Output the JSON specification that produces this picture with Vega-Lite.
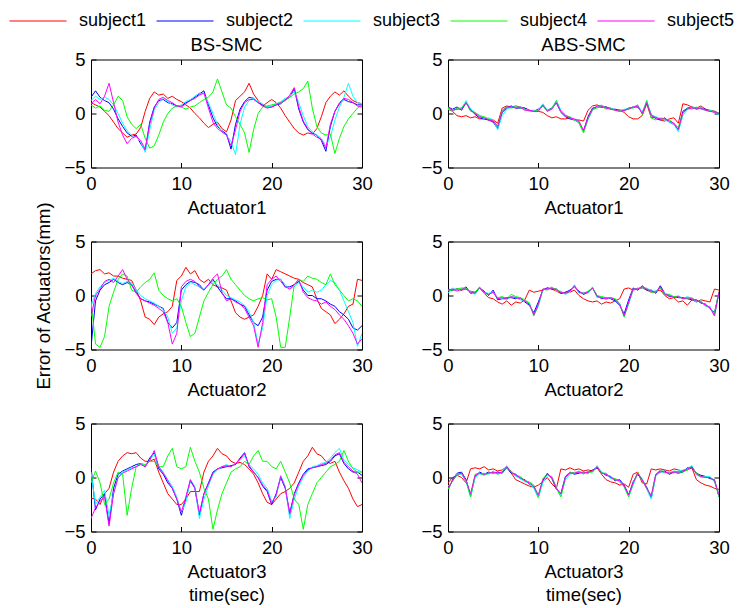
{
"$schema":"https://vega.github.io/schema/vega-lite/v6.json",
"padding":{"left":9,"top":-8.5,"right":0,"bottom":0},
"background":"white",
"datasets":{"d":[
{"p":1,"t":0,"a":1.0,"b":1.5,"c":1.2,"d":0.8,"e":0.9},
{"p":1,"t":0.5,"a":0.8,"b":2.1,"c":1.6,"d":0.5,"e":1.3},
{"p":1,"t":1,"a":0.6,"b":1.5,"c":1.3,"d":0.7,"e":0.9},
{"p":1,"t":1.5,"a":0.2,"b":1.2,"c":1.5,"d":0.3,"e":1.6},
{"p":1,"t":2,"a":-0.2,"b":1.0,"c":1.3,"d":0.2,"e":2.8},
{"p":1,"t":2.5,"a":-0.8,"b":0.4,"c":0.8,"d":0.8,"e":1.0},
{"p":1,"t":3,"a":-1.4,"b":-0.5,"c":0.0,"d":1.6,"e":-0.8},
{"p":1,"t":3.5,"a":-1.8,"b":-1.2,"c":-0.9,"d":1.2,"e":-2.0},
{"p":1,"t":4,"a":-2.2,"b":-1.8,"c":-1.6,"d":-0.3,"e":-2.8},
{"p":1,"t":4.5,"a":-2.0,"b":-2.1,"c":-2.0,"d":-1.0,"e":-2.3},
{"p":1,"t":5,"a":-1.9,"b":-2.0,"c":-2.2,"d":-1.4,"e":-2.1},
{"p":1,"t":5.5,"a":-1.3,"b":-2.8,"c":-2.6,"d":-1.0,"e":-2.5},
{"p":1,"t":6,"a":0.2,"b":-3.4,"c":-3.6,"d":-2.3,"e":-3.3},
{"p":1,"t":6.5,"a":1.4,"b":-0.8,"c":-1.5,"d":-3.2,"e":-1.0},
{"p":1,"t":7,"a":2.0,"b":0.6,"c":0.3,"d":-3.0,"e":0.5},
{"p":1,"t":7.5,"a":1.7,"b":1.2,"c":1.0,"d":-2.0,"e":1.3},
{"p":1,"t":8,"a":1.8,"b":1.3,"c":1.4,"d":-0.8,"e":1.5},
{"p":1,"t":8.5,"a":1.4,"b":1.0,"c":1.1,"d":0.0,"e":1.2},
{"p":1,"t":9,"a":1.6,"b":0.9,"c":0.8,"d":0.5,"e":1.0},
{"p":1,"t":9.5,"a":1.3,"b":0.7,"c":0.6,"d":0.7,"e":0.7},
{"p":1,"t":10,"a":1.1,"b":0.7,"c":0.8,"d":0.6,"e":0.6},
{"p":1,"t":10.5,"a":0.8,"b":1.0,"c":1.1,"d":0.4,"e":0.9},
{"p":1,"t":11,"a":0.5,"b":1.2,"c":1.3,"d":0.6,"e":1.2},
{"p":1,"t":11.5,"a":0.0,"b":1.5,"c":1.6,"d":0.7,"e":1.4},
{"p":1,"t":12,"a":-0.4,"b":1.8,"c":1.9,"d":1.0,"e":1.7},
{"p":1,"t":12.5,"a":-0.9,"b":2.1,"c":1.8,"d":1.3,"e":1.9},
{"p":1,"t":13,"a":-1.3,"b":0.8,"c":1.0,"d":1.5,"e":0.5},
{"p":1,"t":13.5,"a":-1.0,"b":-0.4,"c":0.0,"d":2.0,"e":-0.8},
{"p":1,"t":14,"a":-0.8,"b":-1.2,"c":-1.0,"d":3.2,"e":-1.4},
{"p":1,"t":14.5,"a":-1.4,"b":-1.6,"c":-1.7,"d":2.0,"e":-1.7},
{"p":1,"t":15,"a":-1.7,"b":-1.9,"c":-2.0,"d":0.8,"e":-2.0},
{"p":1,"t":15.5,"a":-0.6,"b":-3.3,"c":-2.6,"d":0.5,"e":-3.0},
{"p":1,"t":16,"a":1.2,"b":-1.0,"c":-3.8,"d":-0.3,"e":-1.5},
{"p":1,"t":16.5,"a":1.6,"b":0.4,"c":-1.0,"d":-1.0,"e":0.2},
{"p":1,"t":17,"a":2.0,"b":1.1,"c":0.6,"d":-1.8,"e":1.0},
{"p":1,"t":17.5,"a":2.8,"b":1.5,"c":1.2,"d":-3.6,"e":1.3},
{"p":1,"t":18,"a":1.8,"b":1.4,"c":1.4,"d":-1.5,"e":1.3},
{"p":1,"t":18.5,"a":1.2,"b":1.0,"c":1.1,"d":0.0,"e":1.0},
{"p":1,"t":19,"a":0.7,"b":0.8,"c":0.9,"d":0.6,"e":0.7},
{"p":1,"t":19.5,"a":1.0,"b":0.6,"c":0.6,"d":0.7,"e":0.5},
{"p":1,"t":20,"a":1.3,"b":0.6,"c":0.7,"d":0.8,"e":0.6},
{"p":1,"t":20.5,"a":1.0,"b":0.8,"c":0.9,"d":0.9,"e":0.8},
{"p":1,"t":21,"a":0.5,"b":0.9,"c":1.1,"d":1.0,"e":1.0},
{"p":1,"t":21.5,"a":-0.2,"b":1.3,"c":1.4,"d":1.2,"e":1.2},
{"p":1,"t":22,"a":-0.8,"b":1.5,"c":1.6,"d":1.5,"e":1.7},
{"p":1,"t":22.5,"a":-1.4,"b":2.3,"c":2.0,"d":1.8,"e":2.4},
{"p":1,"t":23,"a":-1.8,"b":0.4,"c":1.0,"d":2.0,"e":0.6},
{"p":1,"t":23.5,"a":-2.0,"b":-0.8,"c":-0.2,"d":2.3,"e":-0.7},
{"p":1,"t":24,"a":-1.8,"b":-1.5,"c":-1.2,"d":3.0,"e":-1.4},
{"p":1,"t":24.5,"a":-1.9,"b":-1.8,"c":-1.7,"d":0.5,"e":-1.9},
{"p":1,"t":25,"a":-1.4,"b":-2.0,"c":-2.0,"d":-1.2,"e":-2.2},
{"p":1,"t":25.5,"a":-0.3,"b":-2.5,"c":-2.3,"d":-1.8,"e":-2.4},
{"p":1,"t":26,"a":1.0,"b":-3.5,"c":-3.0,"d":-2.0,"e":-3.2},
{"p":1,"t":26.5,"a":1.6,"b":-1.2,"c":-2.2,"d":-1.9,"e":-1.0},
{"p":1,"t":27,"a":2.0,"b":0.2,"c":-0.6,"d":-3.7,"e":0.2},
{"p":1,"t":27.5,"a":1.7,"b":0.9,"c":0.6,"d":-2.3,"e":1.0},
{"p":1,"t":28,"a":2.1,"b":1.3,"c":1.5,"d":-1.2,"e":1.4},
{"p":1,"t":28.5,"a":1.6,"b":1.1,"c":2.8,"d":-0.5,"e":1.3},
{"p":1,"t":29,"a":1.2,"b":1.0,"c":1.6,"d":0.0,"e":1.0},
{"p":1,"t":29.5,"a":1.0,"b":0.8,"c":1.0,"d":0.5,"e":0.7},
{"p":1,"t":30,"a":0.9,"b":0.8,"c":0.9,"d":0.8,"e":0.6},
{"p":2,"t":0,"a":0.4,"b":0.6,"c":0.4,"d":0.5,"e":0.6},
{"p":2,"t":0.5,"a":0.2,"b":0.4,"c":0.3,"d":0.2,"e":0.3},
{"p":2,"t":1,"a":-0.2,"b":0.6,"c":0.4,"d":0.5,"e":0.4},
{"p":2,"t":1.5,"a":-0.3,"b":0.3,"c":0.5,"d":0.5,"e":0.4},
{"p":2,"t":2,"a":-0.2,"b":1.0,"c":1.2,"d":1.0,"e":1.0},
{"p":2,"t":2.5,"a":-0.4,"b":0.4,"c":0.4,"d":0.2,"e":0.3},
{"p":2,"t":3,"a":-0.3,"b":-0.1,"c":0.1,"d":0.1,"e":0.0},
{"p":2,"t":3.5,"a":-0.5,"b":-0.4,"c":-0.2,"d":-0.2,"e":-0.3},
{"p":2,"t":4,"a":-0.5,"b":-0.5,"c":-0.5,"d":-0.3,"e":-0.4},
{"p":2,"t":4.5,"a":-0.6,"b":-0.6,"c":-0.4,"d":-0.5,"e":-0.6},
{"p":2,"t":5,"a":-0.6,"b":-0.8,"c":-0.6,"d":-0.6,"e":-0.7},
{"p":2,"t":5.5,"a":-0.9,"b":-1.4,"c":-1.5,"d":-1.2,"e":-1.2},
{"p":2,"t":6,"a":0.5,"b":0.1,"c":-0.2,"d":0.3,"e":0.2},
{"p":2,"t":6.5,"a":0.7,"b":0.5,"c":0.4,"d":0.6,"e":0.6},
{"p":2,"t":7,"a":0.6,"b":0.7,"c":0.6,"d":0.5,"e":0.6},
{"p":2,"t":7.5,"a":0.7,"b":0.5,"c":0.6,"d":0.6,"e":0.5},
{"p":2,"t":8,"a":0.6,"b":0.5,"c":0.6,"d":0.5,"e":0.6},
{"p":2,"t":8.5,"a":0.5,"b":0.5,"c":0.4,"d":0.4,"e":0.3},
{"p":2,"t":9,"a":0.3,"b":0.3,"c":0.3,"d":0.2,"e":0.3},
{"p":2,"t":9.5,"a":0.2,"b":0.2,"c":0.3,"d":0.2,"e":0.2},
{"p":2,"t":10,"a":0.2,"b":0.4,"c":0.3,"d":0.3,"e":0.2},
{"p":2,"t":10.5,"a":0.1,"b":0.7,"c":0.9,"d":0.7,"e":0.8},
{"p":2,"t":11,"a":-0.2,"b":0.3,"c":0.3,"d":0.2,"e":0.2},
{"p":2,"t":11.5,"a":-0.4,"b":0.5,"c":0.4,"d":0.5,"e":0.4},
{"p":2,"t":12,"a":-0.3,"b":1.0,"c":1.2,"d":1.2,"e":1.0},
{"p":2,"t":12.5,"a":-0.5,"b":0.1,"c":0.3,"d":0.1,"e":0.2},
{"p":2,"t":13,"a":-0.5,"b":-0.3,"c":-0.1,"d":-0.2,"e":-0.2},
{"p":2,"t":13.5,"a":-0.4,"b":-0.5,"c":-0.4,"d":-0.3,"e":-0.4},
{"p":2,"t":14,"a":-0.6,"b":-0.6,"c":-0.6,"d":-0.6,"e":-0.5},
{"p":2,"t":14.5,"a":-0.6,"b":-0.8,"c":-0.8,"d":-0.9,"e":-0.7},
{"p":2,"t":15,"a":-0.7,"b":-1.6,"c":-1.7,"d":-1.8,"e":-1.6},
{"p":2,"t":15.5,"a":0.3,"b":-0.3,"c":-0.6,"d":-0.5,"e":-0.4},
{"p":2,"t":16,"a":0.7,"b":0.5,"c":0.3,"d":0.4,"e":0.4},
{"p":2,"t":16.5,"a":0.8,"b":0.6,"c":0.6,"d":0.5,"e":0.7},
{"p":2,"t":17,"a":0.6,"b":0.6,"c":0.8,"d":0.7,"e":0.7},
{"p":2,"t":17.5,"a":0.6,"b":0.6,"c":0.5,"d":0.4,"e":0.5},
{"p":2,"t":18,"a":0.5,"b":0.4,"c":0.5,"d":0.5,"e":0.4},
{"p":2,"t":18.5,"a":0.3,"b":0.4,"c":0.3,"d":0.3,"e":0.3},
{"p":2,"t":19,"a":0.3,"b":0.3,"c":0.2,"d":0.3,"e":0.2},
{"p":2,"t":19.5,"a":0.1,"b":0.3,"c":0.4,"d":0.2,"e":0.3},
{"p":2,"t":20,"a":-0.3,"b":0.5,"c":0.4,"d":0.5,"e":0.4},
{"p":2,"t":20.5,"a":-0.5,"b":0.6,"c":0.6,"d":0.5,"e":0.6},
{"p":2,"t":21,"a":-0.5,"b":0.6,"c":0.8,"d":0.8,"e":0.7},
{"p":2,"t":21.5,"a":-0.2,"b":0.1,"c":0.1,"d":-0.1,"e":0.0},
{"p":2,"t":22,"a":0.9,"b":1.0,"c":1.2,"d":1.2,"e":1.0},
{"p":2,"t":22.5,"a":-0.4,"b":-0.1,"c":-0.1,"d":-0.4,"e":-0.2},
{"p":2,"t":23,"a":-0.3,"b":-0.5,"c":-0.3,"d":-0.6,"e":-0.4},
{"p":2,"t":23.5,"a":-0.6,"b":-0.6,"c":-0.5,"d":-0.4,"e":-0.5},
{"p":2,"t":24,"a":-0.7,"b":-0.4,"c":-0.6,"d":-0.5,"e":-0.5},
{"p":2,"t":24.5,"a":-0.5,"b":-0.8,"c":-0.8,"d":-0.6,"e":-0.7},
{"p":2,"t":25,"a":-0.4,"b":-1.0,"c":-1.0,"d":-0.9,"e":-0.9},
{"p":2,"t":25.5,"a":-0.9,"b":-1.5,"c":-1.7,"d":-1.3,"e":-1.5},
{"p":2,"t":26,"a":0.9,"b":0.2,"c":-0.2,"d":0.0,"e":0.1},
{"p":2,"t":26.5,"a":0.8,"b":0.5,"c":0.4,"d":0.5,"e":0.4},
{"p":2,"t":27,"a":0.6,"b":0.6,"c":0.6,"d":0.4,"e":0.5},
{"p":2,"t":27.5,"a":0.5,"b":0.4,"c":0.5,"d":0.6,"e":0.5},
{"p":2,"t":28,"a":0.7,"b":0.5,"c":0.6,"d":0.4,"e":0.5},
{"p":2,"t":28.5,"a":0.4,"b":0.4,"c":0.3,"d":0.3,"e":0.3},
{"p":2,"t":29,"a":0.3,"b":0.2,"c":0.3,"d":0.2,"e":0.2},
{"p":2,"t":29.5,"a":0.2,"b":0.2,"c":0.1,"d":0.2,"e":0.1},
{"p":2,"t":30,"a":0.0,"b":0.0,"c":-0.1,"d":0.0,"e":0.0},
{"p":3,"t":0,"a":2.0,"b":-4.8,"c":-1.0,"d":-0.5,"e":-2.0},
{"p":3,"t":0.5,"a":2.3,"b":-0.5,"c":0.2,"d":-4.5,"e":0.0},
{"p":3,"t":1,"a":2.4,"b":0.5,"c":0.8,"d":-4.8,"e":0.6},
{"p":3,"t":1.5,"a":2.0,"b":1.0,"c":1.2,"d":-3.8,"e":1.3},
{"p":3,"t":2,"a":2.1,"b":1.2,"c":1.4,"d":-1.0,"e":1.5},
{"p":3,"t":2.5,"a":1.8,"b":1.5,"c":1.6,"d":0.3,"e":1.2},
{"p":3,"t":3,"a":1.8,"b":1.2,"c":1.3,"d":1.5,"e":1.8},
{"p":3,"t":3.5,"a":1.6,"b":1.0,"c":1.1,"d":2.0,"e":2.4},
{"p":3,"t":4,"a":1.5,"b":1.2,"c":1.3,"d":1.8,"e":1.5},
{"p":3,"t":4.5,"a":1.4,"b":1.0,"c":1.2,"d":0.5,"e":1.0},
{"p":3,"t":5,"a":0.5,"b":0.3,"c":0.5,"d":0.3,"e":0.2},
{"p":3,"t":5.5,"a":-0.5,"b":-0.3,"c":0.0,"d":0.8,"e":-0.3},
{"p":3,"t":6,"a":-2.0,"b":-0.5,"c":-0.3,"d":1.2,"e":-0.5},
{"p":3,"t":6.5,"a":-2.2,"b":-0.6,"c":-0.5,"d":1.5,"e":-0.7},
{"p":3,"t":7,"a":-2.7,"b":-0.8,"c":-0.7,"d":2.1,"e":-0.9},
{"p":3,"t":7.5,"a":-2.0,"b":-1.0,"c":-1.0,"d":0.5,"e":-1.2},
{"p":3,"t":8,"a":-1.7,"b":-1.2,"c":-1.3,"d":0.0,"e":-1.5},
{"p":3,"t":8.5,"a":-1.5,"b":-2.5,"c":-2.0,"d":-0.3,"e":-2.5},
{"p":3,"t":9,"a":-1.0,"b":-3.0,"c":-3.5,"d":-0.5,"e":-4.5},
{"p":3,"t":9.5,"a":1.4,"b":-2.5,"c":-3.0,"d":-0.3,"e":-3.5},
{"p":3,"t":10,"a":1.8,"b":0.5,"c":-0.5,"d":-1.0,"e":0.8},
{"p":3,"t":10.5,"a":2.6,"b":1.0,"c":0.8,"d":-2.5,"e":1.3},
{"p":3,"t":11,"a":2.0,"b":1.3,"c":1.2,"d":-3.8,"e":1.5},
{"p":3,"t":11.5,"a":2.3,"b":1.2,"c":1.0,"d":-3.5,"e":1.3},
{"p":3,"t":12,"a":1.5,"b":1.0,"c":0.8,"d":-2.0,"e":0.8},
{"p":3,"t":12.5,"a":1.2,"b":0.5,"c":0.6,"d":-0.5,"e":0.5},
{"p":3,"t":13,"a":1.5,"b":1.0,"c":0.9,"d":0.3,"e":1.0},
{"p":3,"t":13.5,"a":1.0,"b":1.5,"c":1.3,"d":1.0,"e":1.6},
{"p":3,"t":14,"a":0.8,"b":0.8,"c":1.0,"d":1.5,"e":2.0},
{"p":3,"t":14.5,"a":0.7,"b":0.2,"c":0.5,"d":1.8,"e":0.3},
{"p":3,"t":15,"a":0.5,"b":-0.3,"c":0.0,"d":2.4,"e":-0.5},
{"p":3,"t":15.5,"a":-0.5,"b":-0.3,"c":-0.2,"d":1.5,"e":-0.3},
{"p":3,"t":16,"a":-1.6,"b":-0.5,"c":-0.4,"d":1.0,"e":-0.6},
{"p":3,"t":16.5,"a":-2.0,"b":-0.8,"c":-0.6,"d":0.5,"e":-0.8},
{"p":3,"t":17,"a":-2.2,"b":-1.0,"c":-0.9,"d":0.0,"e":-1.2},
{"p":3,"t":17.5,"a":-2.0,"b":-1.8,"c":-1.5,"d":-0.3,"e":-2.0},
{"p":3,"t":18,"a":-1.8,"b":-2.5,"c":-2.5,"d":-0.5,"e":-2.8},
{"p":3,"t":18.5,"a":-1.0,"b":-2.8,"c":-4.5,"d":-0.3,"e":-4.8},
{"p":3,"t":19,"a":0.0,"b":-2.0,"c":-3.0,"d":-0.2,"e":-2.5},
{"p":3,"t":19.5,"a":2.0,"b":0.5,"c":0.0,"d":-0.4,"e":1.0},
{"p":3,"t":20,"a":1.5,"b":1.3,"c":1.0,"d":-0.3,"e":1.5},
{"p":3,"t":20.5,"a":2.4,"b":1.5,"c":1.4,"d":-2.0,"e":1.8},
{"p":3,"t":21,"a":2.2,"b":1.5,"c":1.5,"d":-4.8,"e":1.3},
{"p":3,"t":21.5,"a":2.0,"b":0.8,"c":1.0,"d":-4.8,"e":0.8},
{"p":3,"t":22,"a":1.8,"b":0.8,"c":0.6,"d":-2.0,"e":0.6},
{"p":3,"t":22.5,"a":1.6,"b":1.0,"c":0.8,"d":1.0,"e":1.0},
{"p":3,"t":23,"a":1.5,"b":1.3,"c":1.2,"d":1.5,"e":1.5},
{"p":3,"t":23.5,"a":1.2,"b":0.5,"c":0.8,"d":1.3,"e":0.3},
{"p":3,"t":24,"a":1.0,"b":0.0,"c":0.3,"d":1.8,"e":-0.2},
{"p":3,"t":24.5,"a":0.8,"b":0.0,"c":0.5,"d":1.6,"e":-0.4},
{"p":3,"t":25,"a":-0.3,"b":-0.3,"c":0.3,"d":1.5,"e":-0.5},
{"p":3,"t":25.5,"a":-1.2,"b":-0.3,"c":0.5,"d":1.2,"e":-0.8},
{"p":3,"t":26,"a":-1.5,"b":-0.5,"c":1.0,"d":1.0,"e":-0.6},
{"p":3,"t":26.5,"a":-1.8,"b":-0.8,"c":1.4,"d":2.0,"e":-1.0},
{"p":3,"t":27,"a":-2.6,"b":-1.0,"c":1.2,"d":1.0,"e":-1.3},
{"p":3,"t":27.5,"a":-2.2,"b":-1.5,"c":0.5,"d":0.5,"e":-1.8},
{"p":3,"t":28,"a":-1.7,"b":-1.8,"c":-0.5,"d":0.0,"e":-2.2},
{"p":3,"t":28.5,"a":-1.0,"b":-2.2,"c":-1.5,"d":-0.5,"e":-2.8},
{"p":3,"t":29,"a":-0.8,"b":-3.0,"c":-2.5,"d":-0.3,"e":-3.5},
{"p":3,"t":29.5,"a":1.5,"b":-3.2,"c":-4.7,"d":-0.5,"e":-4.5},
{"p":3,"t":30,"a":1.4,"b":-2.8,"c":-3.5,"d":-1.0,"e":-4.0},
{"p":4,"t":0,"a":0.4,"b":0.6,"c":0.2,"d":0.5,"e":0.5},
{"p":4,"t":0.5,"a":0.5,"b":0.5,"c":0.7,"d":0.5,"e":0.6},
{"p":4,"t":1,"a":0.6,"b":0.6,"c":0.5,"d":0.6,"e":0.4},
{"p":4,"t":1.5,"a":0.5,"b":0.5,"c":0.6,"d":0.7,"e":0.6},
{"p":4,"t":2,"a":0.6,"b":0.8,"c":0.6,"d":0.7,"e":0.6},
{"p":4,"t":2.5,"a":0.4,"b":0.2,"c":0.4,"d":0.3,"e":0.3},
{"p":4,"t":3,"a":0.3,"b":0.3,"c":0.1,"d":0.3,"e":0.2},
{"p":4,"t":3.5,"a":0.7,"b":0.7,"c":0.7,"d":0.8,"e":0.7},
{"p":4,"t":4,"a":0.2,"b":0.4,"c":0.3,"d":0.2,"e":0.3},
{"p":4,"t":4.5,"a":-0.2,"b":0.0,"c":0.2,"d":0.1,"e":0.1},
{"p":4,"t":5,"a":-0.3,"b":0.5,"c":0.3,"d":0.3,"e":0.3},
{"p":4,"t":5.5,"a":-0.6,"b":-0.4,"c":-0.2,"d":-0.2,"e":-0.3},
{"p":4,"t":6,"a":-0.8,"b":-0.3,"c":-0.3,"d":-0.1,"e":-0.2},
{"p":4,"t":6.5,"a":-0.5,"b":-0.2,"c":-0.4,"d":-0.3,"e":-0.3},
{"p":4,"t":7,"a":-0.9,"b":-0.2,"c":-0.1,"d":0.1,"e":-0.1},
{"p":4,"t":7.5,"a":-0.6,"b":-0.3,"c":-0.2,"d":-0.1,"e":-0.2},
{"p":4,"t":8,"a":-0.7,"b":-0.2,"c":-0.4,"d":-0.2,"e":-0.3},
{"p":4,"t":8.5,"a":-0.4,"b":-0.6,"c":-0.5,"d":-0.4,"e":-0.5},
{"p":4,"t":9,"a":0.5,"b":-0.9,"c":-0.7,"d":-0.7,"e":-0.8},
{"p":4,"t":9.5,"a":0.3,"b":-1.6,"c":-1.8,"d":-1.9,"e":-1.8},
{"p":4,"t":10,"a":0.4,"b":-0.6,"c":-1.0,"d":-0.9,"e":-0.8},
{"p":4,"t":10.5,"a":0.5,"b":0.5,"c":0.5,"d":0.6,"e":0.6},
{"p":4,"t":11,"a":0.7,"b":0.7,"c":0.6,"d":0.5,"e":0.6},
{"p":4,"t":11.5,"a":0.6,"b":0.6,"c":0.8,"d":0.7,"e":0.7},
{"p":4,"t":12,"a":0.4,"b":0.6,"c":0.4,"d":0.6,"e":0.5},
{"p":4,"t":12.5,"a":0.2,"b":0.2,"c":0.4,"d":0.3,"e":0.3},
{"p":4,"t":13,"a":0.3,"b":0.3,"c":0.1,"d":0.2,"e":0.2},
{"p":4,"t":13.5,"a":0.3,"b":0.5,"c":0.3,"d":0.4,"e":0.4},
{"p":4,"t":14,"a":0.5,"b":0.8,"c":1.0,"d":0.8,"e":0.9},
{"p":4,"t":14.5,"a":0.0,"b":0.4,"c":0.2,"d":0.3,"e":0.3},
{"p":4,"t":15,"a":-0.3,"b":0.1,"c":0.3,"d":0.2,"e":0.2},
{"p":4,"t":15.5,"a":-0.5,"b":0.3,"c":0.2,"d":0.4,"e":0.3},
{"p":4,"t":16,"a":-0.6,"b":0.7,"c":0.8,"d":0.7,"e":0.7},
{"p":4,"t":16.5,"a":-0.5,"b":0.0,"c":-0.2,"d":0.0,"e":-0.1},
{"p":4,"t":17,"a":-0.8,"b":-0.3,"c":-0.1,"d":-0.1,"e":-0.2},
{"p":4,"t":17.5,"a":-0.6,"b":-0.2,"c":-0.4,"d":-0.2,"e":-0.3},
{"p":4,"t":18,"a":-0.7,"b":-0.3,"c":-0.2,"d":-0.2,"e":-0.2},
{"p":4,"t":18.5,"a":-0.5,"b":-0.5,"c":-0.3,"d":-0.3,"e":-0.4},
{"p":4,"t":19,"a":-0.3,"b":-0.9,"c":-0.7,"d":-0.8,"e":-0.8},
{"p":4,"t":19.5,"a":0.6,"b":-1.7,"c":-1.9,"d":-2.0,"e":-1.9},
{"p":4,"t":20,"a":0.7,"b":-0.4,"c":-0.8,"d":-0.7,"e":-0.6},
{"p":4,"t":20.5,"a":0.5,"b":0.7,"c":0.5,"d":0.6,"e":0.6},
{"p":4,"t":21,"a":0.6,"b":0.5,"c":0.7,"d":0.6,"e":0.6},
{"p":4,"t":21.5,"a":0.7,"b":0.9,"c":0.7,"d":0.8,"e":0.8},
{"p":4,"t":22,"a":0.5,"b":0.5,"c":0.7,"d":0.6,"e":0.6},
{"p":4,"t":22.5,"a":0.3,"b":0.5,"c":0.4,"d":0.3,"e":0.4},
{"p":4,"t":23,"a":0.4,"b":0.2,"c":0.4,"d":0.3,"e":0.3},
{"p":4,"t":23.5,"a":0.5,"b":0.9,"c":0.7,"d":0.7,"e":0.8},
{"p":4,"t":24,"a":0.0,"b":0.2,"c":0.2,"d":0.0,"e":0.1},
{"p":4,"t":24.5,"a":-0.3,"b":-0.1,"c":0.1,"d":0.1,"e":0.0},
{"p":4,"t":25,"a":-0.2,"b":-0.1,"c":-0.2,"d":-0.1,"e":-0.2},
{"p":4,"t":25.5,"a":-0.6,"b":-0.2,"c":0.0,"d":-0.1,"e":-0.1},
{"p":4,"t":26,"a":-0.5,"b":-0.2,"c":-0.3,"d":-0.3,"e":-0.3},
{"p":4,"t":26.5,"a":-0.9,"b":-0.3,"c":-0.1,"d":-0.3,"e":-0.2},
{"p":4,"t":27,"a":-0.4,"b":-0.4,"c":-0.3,"d":-0.2,"e":-0.3},
{"p":4,"t":27.5,"a":-0.6,"b":-0.4,"c":-0.6,"d":-0.5,"e":-0.5},
{"p":4,"t":28,"a":-0.4,"b":-0.7,"c":-0.5,"d":-0.6,"e":-0.6},
{"p":4,"t":28.5,"a":-0.5,"b":-0.8,"c":-1.0,"d":-0.9,"e":-0.9},
{"p":4,"t":29,"a":-0.6,"b":-1.2,"c":-1.0,"d":-1.2,"e":-1.1},
{"p":4,"t":29.5,"a":0.6,"b":-1.6,"c":-1.9,"d":-1.7,"e":-1.9},
{"p":4,"t":30,"a":0.5,"b":0.3,"c":0.3,"d":0.4,"e":0.3},
{"p":5,"t":0,"a":-1.9,"b":1.0,"c":0.5,"d":-0.5,"e":-3.8},
{"p":5,"t":0.5,"a":-2.0,"b":-3.0,"c":-2.5,"d":0.6,"e":-2.8},
{"p":5,"t":1,"a":-2.5,"b":-2.0,"c":-1.8,"d":-0.5,"e":-2.2},
{"p":5,"t":1.5,"a":-1.5,"b":-1.5,"c":-1.2,"d":-2.5,"e":-1.8},
{"p":5,"t":2,"a":-1.0,"b":-4.3,"c":-3.5,"d":-2.0,"e":-4.5},
{"p":5,"t":2.5,"a":0.5,"b":-1.0,"c":-1.5,"d":-0.5,"e":-1.5},
{"p":5,"t":3,"a":1.5,"b":0.3,"c":0.0,"d":0.5,"e":0.0},
{"p":5,"t":3.5,"a":2.0,"b":0.6,"c":0.5,"d":0.3,"e":0.4},
{"p":5,"t":4,"a":2.3,"b":0.8,"c":0.7,"d":-3.5,"e":0.6},
{"p":5,"t":4.5,"a":2.2,"b":1.0,"c":0.9,"d":-1.0,"e":0.8},
{"p":5,"t":5,"a":2.3,"b":1.2,"c":1.0,"d":1.0,"e":1.0},
{"p":5,"t":5.5,"a":1.8,"b":1.3,"c":1.2,"d":1.3,"e":1.2},
{"p":5,"t":6,"a":1.5,"b":1.0,"c":1.1,"d":1.2,"e":1.0},
{"p":5,"t":6.5,"a":1.5,"b":1.8,"c":1.6,"d":1.5,"e":1.6},
{"p":5,"t":7,"a":1.7,"b":2.3,"c":2.2,"d":1.5,"e":2.5},
{"p":5,"t":7.5,"a":0.5,"b":0.8,"c":1.0,"d":1.0,"e":1.0},
{"p":5,"t":8,"a":-0.5,"b":0.3,"c":0.5,"d":1.0,"e":0.4},
{"p":5,"t":8.5,"a":-1.5,"b":-0.5,"c":-0.2,"d":2.0,"e":-0.3},
{"p":5,"t":9,"a":-2.0,"b":-1.0,"c":-0.8,"d":2.7,"e":-1.0},
{"p":5,"t":9.5,"a":-2.5,"b":-2.0,"c":-1.8,"d":1.0,"e":-2.0},
{"p":5,"t":10,"a":-2.5,"b":-3.5,"c":-3.2,"d":0.8,"e":-3.2},
{"p":5,"t":10.5,"a":-2.0,"b":-2.0,"c":-2.3,"d":1.0,"e":-1.8},
{"p":5,"t":11,"a":-1.3,"b":-0.3,"c":-0.2,"d":2.8,"e":-0.2},
{"p":5,"t":11.5,"a":-1.3,"b":-1.0,"c":-0.8,"d":1.5,"e":-1.0},
{"p":5,"t":12,"a":-1.3,"b":-3.5,"c":-3.8,"d":0.5,"e":-3.3},
{"p":5,"t":12.5,"a":0.5,"b":-1.5,"c":-2.0,"d":-1.0,"e":-1.5},
{"p":5,"t":13,"a":1.5,"b":-0.5,"c":-0.8,"d":-2.0,"e":-0.6},
{"p":5,"t":13.5,"a":2.0,"b":0.5,"c":0.3,"d":-4.8,"e":0.4},
{"p":5,"t":14,"a":2.7,"b":0.8,"c":0.7,"d":-3.0,"e":0.8},
{"p":5,"t":14.5,"a":2.2,"b":0.9,"c":1.0,"d":-1.5,"e":1.0},
{"p":5,"t":15,"a":2.0,"b":1.0,"c":1.2,"d":-0.5,"e":1.1},
{"p":5,"t":15.5,"a":1.5,"b":1.1,"c":1.0,"d":0.5,"e":1.0},
{"p":5,"t":16,"a":1.3,"b":1.2,"c":1.3,"d":0.8,"e":1.3},
{"p":5,"t":16.5,"a":1.4,"b":1.8,"c":1.6,"d":1.0,"e":1.7},
{"p":5,"t":17,"a":1.2,"b":2.3,"c":2.0,"d":1.5,"e":2.2},
{"p":5,"t":17.5,"a":0.8,"b":1.0,"c":1.2,"d":1.2,"e":1.1},
{"p":5,"t":18,"a":0.3,"b":0.5,"c":0.8,"d":2.0,"e":0.5},
{"p":5,"t":18.5,"a":-0.5,"b":0.0,"c":0.3,"d":2.5,"e":0.0},
{"p":5,"t":19,"a":-1.5,"b":-0.8,"c":-0.5,"d":1.5,"e":-0.7},
{"p":5,"t":19.5,"a":-2.3,"b":-1.3,"c":-1.0,"d":1.5,"e":-1.2},
{"p":5,"t":20,"a":-2.5,"b":-2.5,"c":-2.2,"d":1.0,"e":-2.4},
{"p":5,"t":20.5,"a":-2.0,"b":-1.5,"c":-1.8,"d":0.8,"e":-1.6},
{"p":5,"t":21,"a":-1.5,"b":0.0,"c":0.2,"d":1.5,"e":0.1},
{"p":5,"t":21.5,"a":-1.3,"b":-1.0,"c":-0.8,"d":0.5,"e":-0.9},
{"p":5,"t":22,"a":-1.0,"b":-3.3,"c":-3.8,"d":-0.5,"e":-3.4},
{"p":5,"t":22.5,"a":-0.5,"b":-1.5,"c":-2.0,"d":-2.0,"e":-1.6},
{"p":5,"t":23,"a":0.5,"b":-0.5,"c":-0.8,"d":-2.5,"e":-0.6},
{"p":5,"t":23.5,"a":1.5,"b":0.3,"c":0.0,"d":-4.8,"e":0.2},
{"p":5,"t":24,"a":2.0,"b":0.8,"c":0.6,"d":-2.5,"e":0.7},
{"p":5,"t":24.5,"a":2.8,"b":0.9,"c":1.0,"d":-1.5,"e":0.9},
{"p":5,"t":25,"a":2.2,"b":1.0,"c":1.1,"d":-0.5,"e":1.0},
{"p":5,"t":25.5,"a":2.0,"b":1.1,"c":1.3,"d":0.0,"e":1.2},
{"p":5,"t":26,"a":1.5,"b":1.2,"c":1.4,"d":0.5,"e":1.3},
{"p":5,"t":26.5,"a":1.3,"b":1.5,"c":1.8,"d":1.0,"e":1.6},
{"p":5,"t":27,"a":1.5,"b":2.0,"c":2.3,"d":1.2,"e":2.1},
{"p":5,"t":27.5,"a":0.5,"b":2.2,"c":2.7,"d":1.5,"e":2.3},
{"p":5,"t":28,"a":-0.3,"b":1.3,"c":1.6,"d":2.5,"e":1.4},
{"p":5,"t":28.5,"a":-1.0,"b":0.8,"c":1.2,"d":1.5,"e":1.0},
{"p":5,"t":29,"a":-2.0,"b":0.5,"c":0.9,"d":0.8,"e":0.6},
{"p":5,"t":29.5,"a":-2.7,"b":0.5,"c":0.7,"d":0.5,"e":0.3},
{"p":5,"t":30,"a":-2.5,"b":0.2,"c":0.5,"d":0.5,"e":-0.5},
{"p":6,"t":0,"a":-0.5,"b":-1.2,"c":-0.8,"d":-1.1,"e":-1.0},
{"p":6,"t":0.5,"a":0.0,"b":-0.2,"c":-0.4,"d":-0.3,"e":-0.3},
{"p":6,"t":1,"a":0.2,"b":0.4,"c":0.4,"d":0.2,"e":0.3},
{"p":6,"t":1.5,"a":0.0,"b":0.5,"c":0.3,"d":0.4,"e":0.4},
{"p":6,"t":2,"a":-0.5,"b":-0.2,"c":-0.4,"d":-0.3,"e":-0.3},
{"p":6,"t":2.5,"a":0.8,"b":-1.7,"c":-1.8,"d":-1.8,"e":-1.5},
{"p":6,"t":3,"a":0.9,"b":0.1,"c":0.0,"d":0.3,"e":0.2},
{"p":6,"t":3.5,"a":0.8,"b":0.5,"c":0.3,"d":0.4,"e":0.4},
{"p":6,"t":4,"a":1.0,"b":0.3,"c":0.4,"d":0.2,"e":0.3},
{"p":6,"t":4.5,"a":0.7,"b":0.5,"c":0.3,"d":0.4,"e":0.4},
{"p":6,"t":5,"a":0.8,"b":0.4,"c":0.6,"d":0.5,"e":0.5},
{"p":6,"t":5.5,"a":0.6,"b":0.5,"c":0.3,"d":0.3,"e":0.4},
{"p":6,"t":6,"a":0.7,"b":0.4,"c":0.5,"d":0.5,"e":0.5},
{"p":6,"t":6.5,"a":1.0,"b":0.9,"c":1.1,"d":0.9,"e":1.0},
{"p":6,"t":7,"a":0.4,"b":0.4,"c":0.5,"d":0.6,"e":0.5},
{"p":6,"t":7.5,"a":-0.2,"b":0.3,"c":0.1,"d":0.2,"e":0.2},
{"p":6,"t":8,"a":-0.4,"b":-0.1,"c":-0.1,"d":0.1,"e":0.0},
{"p":6,"t":8.5,"a":-0.6,"b":-0.2,"c":-0.4,"d":-0.3,"e":-0.3},
{"p":6,"t":9,"a":-0.8,"b":-0.6,"c":-0.5,"d":-0.4,"e":-0.5},
{"p":6,"t":9.5,"a":-0.9,"b":-0.9,"c":-1.0,"d":-0.7,"e":-0.8},
{"p":6,"t":10,"a":-0.7,"b":-1.8,"c":-1.9,"d":-1.8,"e":-1.6},
{"p":6,"t":10.5,"a":-0.4,"b":-0.3,"c":-0.5,"d":-0.1,"e":-0.2},
{"p":6,"t":11,"a":0.0,"b":0.4,"c":0.2,"d":0.3,"e":0.3},
{"p":6,"t":11.5,"a":-0.6,"b":-0.1,"c":0.1,"d":0.0,"e":0.0},
{"p":6,"t":12,"a":-1.0,"b":-1.1,"c":-0.9,"d":-1.0,"e":-1.0},
{"p":6,"t":12.5,"a":0.8,"b":-1.5,"c":-1.7,"d":-1.8,"e":-1.5},
{"p":6,"t":13,"a":0.7,"b":0.1,"c":-0.2,"d":0.0,"e":0.0},
{"p":6,"t":13.5,"a":0.9,"b":0.5,"c":0.3,"d":0.5,"e":0.4},
{"p":6,"t":14,"a":0.7,"b":0.3,"c":0.5,"d":0.4,"e":0.4},
{"p":6,"t":14.5,"a":0.8,"b":0.4,"c":0.5,"d":0.6,"e":0.5},
{"p":6,"t":15,"a":0.6,"b":0.5,"c":0.3,"d":0.4,"e":0.4},
{"p":6,"t":15.5,"a":0.7,"b":0.4,"c":0.6,"d":0.5,"e":0.5},
{"p":6,"t":16,"a":0.6,"b":0.7,"c":0.5,"d":0.5,"e":0.6},
{"p":6,"t":16.5,"a":0.9,"b":0.9,"c":1.1,"d":1.0,"e":1.0},
{"p":6,"t":17,"a":0.3,"b":0.5,"c":0.5,"d":0.4,"e":0.4},
{"p":6,"t":17.5,"a":-0.2,"b":0.2,"c":0.3,"d":0.4,"e":0.3},
{"p":6,"t":18,"a":-0.4,"b":0.1,"c":-0.1,"d":0.0,"e":0.0},
{"p":6,"t":18.5,"a":-0.5,"b":-0.3,"c":-0.2,"d":-0.1,"e":-0.2},
{"p":6,"t":19,"a":-0.7,"b":-0.2,"c":-0.4,"d":-0.3,"e":-0.3},
{"p":6,"t":19.5,"a":-0.6,"b":-0.7,"c":-0.9,"d":-0.8,"e":-0.8},
{"p":6,"t":20,"a":-0.9,"b":-1.6,"c":-1.8,"d":-1.8,"e":-1.6},
{"p":6,"t":20.5,"a":0.3,"b":-0.4,"c":-0.7,"d":-0.5,"e":-0.5},
{"p":6,"t":21,"a":0.5,"b":0.3,"c":0.4,"d":0.5,"e":0.4},
{"p":6,"t":21.5,"a":-0.5,"b":-0.2,"c":-0.1,"d":-0.3,"e":-0.2},
{"p":6,"t":22,"a":-0.6,"b":-0.9,"c":-1.1,"d":-1.0,"e":-1.0},
{"p":6,"t":22.5,"a":0.8,"b":-1.9,"c":-2.0,"d":-1.7,"e":-1.7},
{"p":6,"t":23,"a":0.7,"b":0.2,"c":0.1,"d":0.3,"e":0.3},
{"p":6,"t":23.5,"a":0.8,"b":0.5,"c":0.6,"d":0.7,"e":0.6},
{"p":6,"t":24,"a":0.7,"b":0.6,"c":0.4,"d":0.5,"e":0.5},
{"p":6,"t":24.5,"a":0.6,"b":0.3,"c":0.5,"d":0.4,"e":0.4},
{"p":6,"t":25,"a":0.8,"b":0.5,"c":0.4,"d":0.6,"e":0.5},
{"p":6,"t":25.5,"a":0.7,"b":0.4,"c":0.6,"d":0.5,"e":0.5},
{"p":6,"t":26,"a":0.6,"b":0.5,"c":0.7,"d":0.5,"e":0.6},
{"p":6,"t":26.5,"a":0.7,"b":0.9,"c":0.8,"d":0.7,"e":0.8},
{"p":6,"t":27,"a":0.9,"b":0.9,"c":1.1,"d":1.0,"e":1.0},
{"p":6,"t":27.5,"a":-0.2,"b":0.4,"c":0.3,"d":0.4,"e":0.3},
{"p":6,"t":28,"a":-0.5,"b":0.2,"c":0.0,"d":0.1,"e":0.1},
{"p":6,"t":28.5,"a":-0.7,"b":0.1,"c":0.1,"d":0.0,"e":0.0},
{"p":6,"t":29,"a":-0.8,"b":-0.1,"c":0.1,"d":0.0,"e":0.0},
{"p":6,"t":29.5,"a":-1.0,"b":-0.2,"c":-0.4,"d":-0.3,"e":-0.3},
{"p":6,"t":30,"a":-1.1,"b":-1.8,"c":-1.5,"d":-1.8,"e":-1.6}
]},
"data":{"name":"d"},
"columns":2,
"spacing":{"row":74,"column":86},
"bounds":"flush",
"resolve":{"scale":{"color":"shared"},"legend":{"color":"shared"}},
"concat":[
{"width":271,"height":108,"title":"BS-SMC",
 "transform":[{"filter":"datum.p==1"},{"fold":["a","b","c","d","e"],"as":["s","v"]}],
 "layer":[
  {"mark":{"type":"line","strokeWidth":1,"clip":true},
   "encoding":{
    "x":{"field":"t","type":"quantitative","scale":{"domain":[0,30],"nice":false},"axis":{"values":[0,10,20,30],"title":"Actuator1"}},
    "y":{"field":"v","type":"quantitative","scale":{"domain":[-5,5],"nice":false},"axis":{"values":[-5,0,5],"title":null}},
    "color":{"field":"s","type":"nominal","scale":{"domain":["a","b","c","d","e"],"range":["#ff0000","#0000ff","#00ffff","#00ff00","#ff00ff"]},"legend":{"labelExpr":"'subject'+(indexof(['a','b','c','d','e'],datum.value)+1)"}}}},
  {"mark":{"type":"line","opacity":0},
   "encoding":{
    "x":{"field":"t","type":"quantitative","axis":{"orient":"top","labels":false,"title":null,"values":[0,10,20,30]}},
    "y":{"field":"v","type":"quantitative","axis":{"orient":"right","labels":false,"title":null,"values":[-5,0,5]}}}}
 ],
 "resolve":{"axis":{"x":"independent","y":"independent"}}},
{"width":271,"height":108,"title":"ABS-SMC",
 "transform":[{"filter":"datum.p==2"},{"fold":["a","b","c","d","e"],"as":["s","v"]}],
 "layer":[
  {"mark":{"type":"line","strokeWidth":1,"clip":true},
   "encoding":{
    "x":{"field":"t","type":"quantitative","scale":{"domain":[0,30],"nice":false},"axis":{"values":[0,10,20,30],"title":"Actuator1"}},
    "y":{"field":"v","type":"quantitative","scale":{"domain":[-5,5],"nice":false},"axis":{"values":[-5,0,5],"title":null}},
    "color":{"field":"s","type":"nominal","scale":{"domain":["a","b","c","d","e"],"range":["#ff0000","#0000ff","#00ffff","#00ff00","#ff00ff"]},"legend":{"labelExpr":"'subject'+(indexof(['a','b','c','d','e'],datum.value)+1)"}}}},
  {"mark":{"type":"line","opacity":0},
   "encoding":{
    "x":{"field":"t","type":"quantitative","axis":{"orient":"top","labels":false,"title":null,"values":[0,10,20,30]}},
    "y":{"field":"v","type":"quantitative","axis":{"orient":"right","labels":false,"title":null,"values":[-5,0,5]}}}}
 ],
 "resolve":{"axis":{"x":"independent","y":"independent"}}},
{"width":271,"height":108,
 "transform":[{"filter":"datum.p==3"},{"fold":["a","b","c","d","e"],"as":["s","v"]}],
 "layer":[
  {"mark":{"type":"line","strokeWidth":1,"clip":true},
   "encoding":{
    "x":{"field":"t","type":"quantitative","scale":{"domain":[0,30],"nice":false},"axis":{"values":[0,10,20,30],"title":"Actuator2"}},
    "y":{"field":"v","type":"quantitative","scale":{"domain":[-5,5],"nice":false},"axis":{"values":[-5,0,5],"title":"Error of Actuators(mm)"}},
    "color":{"field":"s","type":"nominal","scale":{"domain":["a","b","c","d","e"],"range":["#ff0000","#0000ff","#00ffff","#00ff00","#ff00ff"]},"legend":{"labelExpr":"'subject'+(indexof(['a','b','c','d','e'],datum.value)+1)"}}}},
  {"mark":{"type":"line","opacity":0},
   "encoding":{
    "x":{"field":"t","type":"quantitative","axis":{"orient":"top","labels":false,"title":null,"values":[0,10,20,30]}},
    "y":{"field":"v","type":"quantitative","axis":{"orient":"right","labels":false,"title":null,"values":[-5,0,5]}}}}
 ],
 "resolve":{"axis":{"x":"independent","y":"independent"}}},
{"width":271,"height":108,
 "transform":[{"filter":"datum.p==4"},{"fold":["a","b","c","d","e"],"as":["s","v"]}],
 "layer":[
  {"mark":{"type":"line","strokeWidth":1,"clip":true},
   "encoding":{
    "x":{"field":"t","type":"quantitative","scale":{"domain":[0,30],"nice":false},"axis":{"values":[0,10,20,30],"title":"Actuator2"}},
    "y":{"field":"v","type":"quantitative","scale":{"domain":[-5,5],"nice":false},"axis":{"values":[-5,0,5],"title":null}},
    "color":{"field":"s","type":"nominal","scale":{"domain":["a","b","c","d","e"],"range":["#ff0000","#0000ff","#00ffff","#00ff00","#ff00ff"]},"legend":{"labelExpr":"'subject'+(indexof(['a','b','c','d','e'],datum.value)+1)"}}}},
  {"mark":{"type":"line","opacity":0},
   "encoding":{
    "x":{"field":"t","type":"quantitative","axis":{"orient":"top","labels":false,"title":null,"values":[0,10,20,30]}},
    "y":{"field":"v","type":"quantitative","axis":{"orient":"right","labels":false,"title":null,"values":[-5,0,5]}}}}
 ],
 "resolve":{"axis":{"x":"independent","y":"independent"}}},
{"width":271,"height":108,
 "transform":[{"filter":"datum.p==5"},{"fold":["a","b","c","d","e"],"as":["s","v"]}],
 "layer":[
  {"mark":{"type":"line","strokeWidth":1,"clip":true},
   "encoding":{
    "x":{"field":"t","type":"quantitative","scale":{"domain":[0,30],"nice":false},"axis":{"values":[0,10,20,30],"title":["Actuator3","time(sec)"]}},
    "y":{"field":"v","type":"quantitative","scale":{"domain":[-5,5],"nice":false},"axis":{"values":[-5,0,5],"title":null}},
    "color":{"field":"s","type":"nominal","scale":{"domain":["a","b","c","d","e"],"range":["#ff0000","#0000ff","#00ffff","#00ff00","#ff00ff"]},"legend":{"labelExpr":"'subject'+(indexof(['a','b','c','d','e'],datum.value)+1)"}}}},
  {"mark":{"type":"line","opacity":0},
   "encoding":{
    "x":{"field":"t","type":"quantitative","axis":{"orient":"top","labels":false,"title":null,"values":[0,10,20,30]}},
    "y":{"field":"v","type":"quantitative","axis":{"orient":"right","labels":false,"title":null,"values":[-5,0,5]}}}}
 ],
 "resolve":{"axis":{"x":"independent","y":"independent"}}},
{"width":271,"height":108,
 "transform":[{"filter":"datum.p==6"},{"fold":["a","b","c","d","e"],"as":["s","v"]}],
 "layer":[
  {"mark":{"type":"line","strokeWidth":1,"clip":true},
   "encoding":{
    "x":{"field":"t","type":"quantitative","scale":{"domain":[0,30],"nice":false},"axis":{"values":[0,10,20,30],"title":["Actuator3","time(sec)"]}},
    "y":{"field":"v","type":"quantitative","scale":{"domain":[-5,5],"nice":false},"axis":{"values":[-5,0,5],"title":null}},
    "color":{"field":"s","type":"nominal","scale":{"domain":["a","b","c","d","e"],"range":["#ff0000","#0000ff","#00ffff","#00ff00","#ff00ff"]},"legend":{"labelExpr":"'subject'+(indexof(['a','b','c','d','e'],datum.value)+1)"}}}},
  {"mark":{"type":"line","opacity":0},
   "encoding":{
    "x":{"field":"t","type":"quantitative","axis":{"orient":"top","labels":false,"title":null,"values":[0,10,20,30]}},
    "y":{"field":"v","type":"quantitative","axis":{"orient":"right","labels":false,"title":null,"values":[-5,0,5]}}}}
 ],
 "resolve":{"axis":{"x":"independent","y":"independent"}}}
],
"config":{
 "font":"Liberation Sans",
 "view":{"stroke":"black","strokeWidth":1},
 "axis":{"domain":false,"grid":false,"ticks":true,"tickSize":-5,"tickColor":"black","tickWidth":1,"labelFontSize":18.5,"labelColor":"black","labelFont":"Liberation Sans","labelFlush":false,"labelOverlap":false,"titleFontSize":18.5,"titleFontWeight":"normal","titleColor":"black","titleFont":"Liberation Sans","titleLineHeight":23},
 "axisX":{"labelPadding":12,"titlePadding":5},
 "axisY":{"labelPadding":11,"titlePadding":10},
 "title":{"fontSize":18.5,"fontWeight":"normal","font":"Liberation Sans","color":"black","offset":-4,"frame":"group"},
 "legend":{"orient":"none","legendX":-82,"legendY":-67.5,"direction":"horizontal","title":null,"symbolType":"stroke","symbolSize":3249,"symbolStrokeWidth":1,"labelFontSize":18,"labelFont":"Liberation Sans","labelColor":"black","labelOffset":12,"columnPadding":7,"padding":0}
}
}
